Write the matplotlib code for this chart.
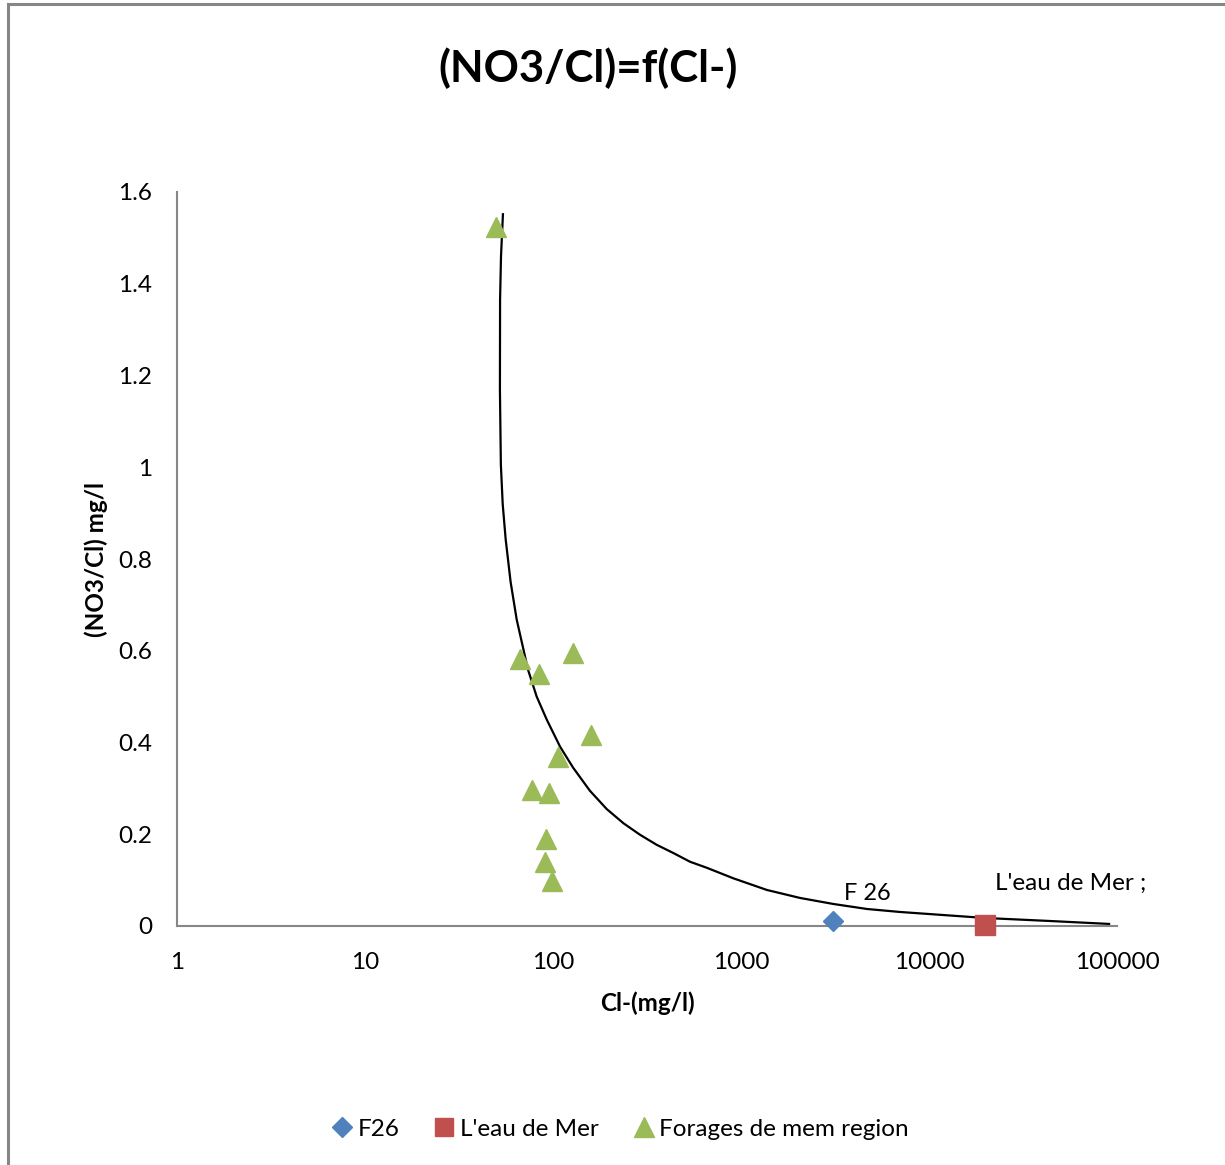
import matplotlib
matplotlib.use("Agg")
import matplotlib.pyplot as plt
from matplotlib.lines import Line2D

plt.rcParams['font.family'] = ['Lato', 'DejaVu Sans']

# ---- data ----
f26_x = [3100]
f26_y = [0.01]

mer_x = [19800]
mer_y = [0.002]

forages_x = [50, 66.7, 128, 84, 160, 106, 77.6, 95.6, 92, 90.7, 98.4]
forages_y = [1.524, 0.583, 0.595, 0.549, 0.417, 0.368, 0.296, 0.290, 0.190, 0.140, 0.098]

curve_x = [54.2, 52.9, 52.3, 52.2, 52.8, 54.0, 56.0, 59.5, 64.1, 73.6, 81.9, 92.6, 109, 128,
           157, 193, 237, 290, 356, 437, 536, 657, 910, 1372, 2063, 3100, 4677, 7000,
           19860, 44020, 92000]
curve_y = [1.554, 1.46, 1.366, 1.170, 1.006, 0.92, 0.843, 0.75, 0.668, 0.559, 0.50, 0.450,
           0.391, 0.345, 0.295, 0.255, 0.224, 0.199, 0.177, 0.159, 0.140, 0.127, 0.104,
           0.0786, 0.0611, 0.048, 0.0371, 0.0306, 0.0175, 0.0109, 0.0044]

yticks = [0, 0.2, 0.4, 0.6, 0.8, 1, 1.2, 1.4, 1.6]
ytick_labels = ['0', '0.2', '0.4', '0.6', '0.8', '1', '1.2', '1.4', '1.6']
xticks = [1, 10, 100, 1000, 10000, 100000]
xtick_labels = ['1', '10', '100', '1000', '10000', '100000']

title = '(NO3/Cl)=f(Cl-)'
xlabel = 'Cl-(mg/l)'
ylabel = '(NO3/Cl) mg/l'

W, H = 1225, 1165
fig = plt.figure(figsize=(W / 100, H / 100), dpi=100)
ax = fig.add_axes([177 / W, 1 - 926 / H, (1117 - 177) / W, (926 - 192) / H])

ax.set_xscale('log')
ax.set_xlim(1, 100000)
ax.set_ylim(0, 1.6)

blue = '#4F81BD'
red = '#C0504D'
green = '#9BBB59'
axis_gray = '#868686'

ax.plot(curve_x, curve_y, color='black', lw=1.6, zorder=2, solid_capstyle='butt',
        solid_joinstyle='round')
ax.plot(f26_x, f26_y, linestyle='none', marker='D', ms=10, color=blue, zorder=3, clip_on=False)
ax.plot(mer_x, mer_y, linestyle='none', marker='s', ms=14, color=red, zorder=3, clip_on=False)
ax.plot(forages_x, forages_y, linestyle='none', marker='^', ms=15, color=green, zorder=3, clip_on=False)

ax.text(4677, 0.070, 'F 26', fontsize=17, ha='center', va='center')
ax.text(22440, 0.094, "L'eau de Mer ;", fontsize=17.5, ha='left', va='center')

for s in ['top', 'right']:
    ax.spines[s].set_visible(False)
for s in ['left', 'bottom']:
    ax.spines[s].set_color(axis_gray)
    ax.spines[s].set_linewidth(1.5)

ax.set_xticks(xticks)
ax.set_xticklabels(xtick_labels)
ax.set_yticks(yticks)
ax.set_yticklabels(ytick_labels)
ax.xaxis.set_minor_locator(matplotlib.ticker.NullLocator())
ax.tick_params(axis='both', length=0, labelsize=17.5)
ax.tick_params(axis='x', pad=19)
ax.tick_params(axis='y', pad=18)

fig.text(588 / W, 1 - 68 / H, title, fontsize=31.5, fontweight='bold', ha='center', va='center')
fig.text(647 / W, 1 - 1003 / H, xlabel, fontsize=17.5, fontweight='bold', ha='center', va='center')
fig.text(96 / W, 1 - 560 / H, ylabel, fontsize=17.5, fontweight='bold', ha='center', va='center',
         rotation=90)

handles = [
    Line2D([], [], linestyle='none', marker='D', ms=10, color=blue),
    Line2D([], [], linestyle='none', marker='s', ms=13, color=red),
    Line2D([], [], linestyle='none', marker='^', ms=14, color=green),
]
fig.legend(handles, ['F26', "L'eau de Mer", 'Forages de mem region'], loc='center',
           bbox_to_anchor=(618 / W, 1 - 1129 / H), ncol=3, frameon=False, fontsize=17.5,
           handletextpad=0.05, columnspacing=1.25, handlelength=1.2)

# outer border (top and left visible)
fig.add_artist(Line2D([8 / W, 1], [1 - 4 / H, 1 - 4 / H], color=axis_gray, lw=2.2,
                      transform=fig.transFigure))
fig.add_artist(Line2D([8 / W, 8 / W], [0, 1 - 4 / H], color=axis_gray, lw=2.2,
                      transform=fig.transFigure))

fig.savefig('out.png', dpi=100)
